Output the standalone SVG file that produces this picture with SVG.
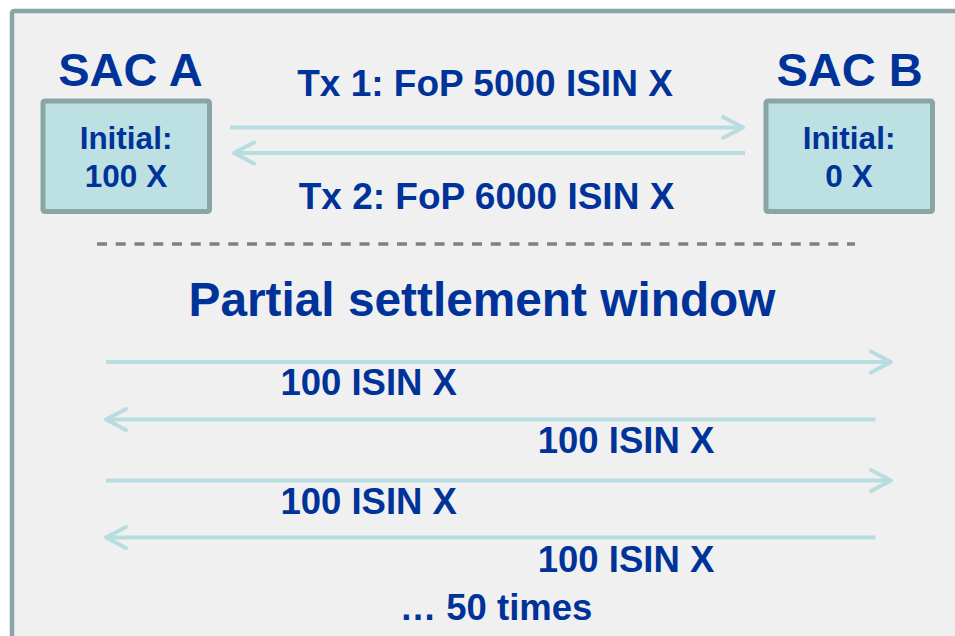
<svg xmlns="http://www.w3.org/2000/svg" width="955" height="636" viewBox="0 0 955 636">
  <style>
    text { font-family: "Liberation Sans", Arial, sans-serif; font-weight: bold; fill: #003399; text-anchor: middle; }
    .title { font-size: 47px; }
    .big { font-size: 47.8px; }
    .tx { font-size: 37px; }
    .box { fill: #bde0e3; stroke: #89a5a5; stroke-width: 5; }
    .boxtxt { font-size: 31.5px; }
    .lbl { font-size: 36.5px; }
    .arrow { stroke: #b8dde0; stroke-width: 4; fill: none; marker-end: url(#chev); }
  </style>
  <defs>
    <marker id="chev" markerUnits="userSpaceOnUse" viewBox="-24 -14 28 28" markerWidth="28" markerHeight="28" refX="0" refY="0" orient="auto" overflow="visible">
      <path d="M-20,-10.5 L0,0 L-20,10.5" fill="none" stroke="#b8dde0" stroke-width="4" stroke-linecap="round" stroke-linejoin="round"/>
    </marker>
  </defs>
  <rect x="0" y="0" width="955" height="636" fill="#ffffff"/>
  <rect id="frame" x="12" y="11" width="960" height="650" rx="2" fill="#f0f0f0" stroke="#89a5a5" stroke-width="4.5"/>

  <g id="sacA">
    <text class="title" x="130.5" y="86">SAC A</text>
    <rect class="box" x="43" y="101" width="166.5" height="110.5" rx="2"/>
    <text class="boxtxt" x="126" y="149">Initial:</text>
    <text class="boxtxt" x="126" y="187">100 X</text>
  </g>

  <g id="sacB">
    <text class="title" x="849.5" y="86">SAC B</text>
    <rect class="box" x="766" y="101" width="166.5" height="110.5" rx="2"/>
    <text class="boxtxt" x="849" y="149">Initial:</text>
    <text class="boxtxt" x="849" y="187">0 X</text>
  </g>

  <g id="connectors">
    <line class="arrow" x1="230" y1="127.5" x2="743" y2="127.5"/>
    <line class="arrow" x1="745" y1="153" x2="234" y2="153"/>
    <line class="arrow" x1="106" y1="362" x2="891" y2="362"/>
    <line class="arrow" x1="875.5" y1="419.5" x2="106" y2="419.5"/>
    <line class="arrow" x1="106" y1="480.5" x2="891" y2="480.5"/>
    <line class="arrow" x1="875.5" y1="537.5" x2="106" y2="537.5"/>
  </g>

  <g id="labels">
    <text class="tx" x="485" y="95.5">Tx 1: FoP 5000 ISIN X</text>
    <text class="tx" x="486.5" y="209">Tx 2: FoP 6000 ISIN X</text>
    <line x1="97" y1="244" x2="855" y2="244" stroke="#808080" stroke-width="3.5" stroke-dasharray="10 8.75"/>
    <text class="big" x="482" y="315.5">Partial settlement window</text>
    <text class="lbl" x="368.7" y="395">100 ISIN X</text>
    <text class="lbl" x="626" y="453.3">100 ISIN X</text>
    <text class="lbl" x="368.7" y="514">100 ISIN X</text>
    <text class="lbl" x="626" y="571.5">100 ISIN X</text>
    <text class="lbl" x="496" y="620">… 50 times</text>
  </g>
</svg>
